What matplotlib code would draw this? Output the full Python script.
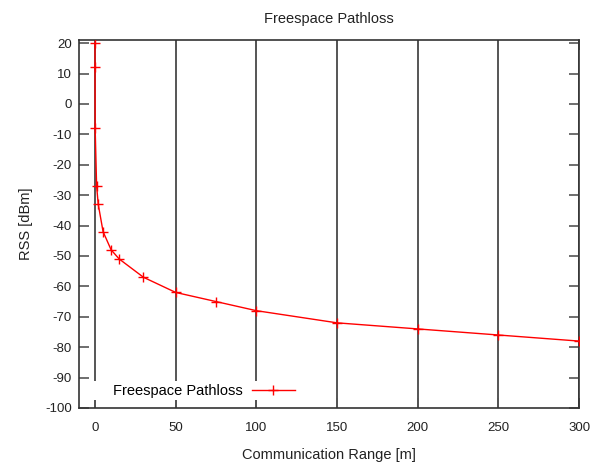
import matplotlib.pyplot as plt
from matplotlib.patches import Rectangle

plt.rcParams["font.family"] = ["Liberation Sans", "DejaVu Sans"]
plt.rcParams["axes.unicode_minus"] = False

# ── data: free-space received signal strength vs distance ─────────────────────
distance = [0.005, 0.01, 0.1, 1, 2, 5, 10, 15, 30, 50, 75, 100, 150, 200, 250, 300]
rss      = [20, 12, -8, -27, -33, -42, -48, -51, -57, -62, -65, -68, -72, -74, -76, -78]

x_ticks = [0, 50, 100, 150, 200, 250, 300]
y_ticks = list(range(-100, 21, 10))

# ── figure ────────────────────────────────────────────────────────────────────
fig = plt.figure(figsize=(6.02, 4.66), dpi=100)
ax = fig.add_axes([0.131, 0.1245, 0.831, 0.7895])

ax.plot(distance, rss, color="#ff0000", lw=1.0, marker="+", ms=7.5, mew=1.0,
        label="Freespace Pathloss", zorder=3)

ax.set_xlim(-10, 300)
ax.set_ylim(-100, 21)
ax.set_xticks(x_ticks)
ax.set_yticks(y_ticks)
ax.tick_params(direction="in", length=7, width=1.2, color="#555555",
               top=True, right=True, labelsize=9.5, labelcolor="#222222")
ax.tick_params(axis="x", pad=10)
ax.tick_params(axis="y", pad=5)
for s in ax.spines.values():
    s.set_color("#333333")
    s.set_linewidth(1.2)

ax.grid(axis="x", color="#555555", lw=1.4)
ax.set_axisbelow(True)

ax.set_title("Freespace Pathloss", fontsize=10.5, pad=12, color="#222222")
ax.set_xlabel("Communication Range [m]", fontsize=10.5, labelpad=10, color="#222222")
ax.set_ylabel("RSS [dBm]", fontsize=10.5, labelpad=9, color="#222222")

# white key box that blanks the grid behind the legend
ax.add_patch(Rectangle((0.012, 0.022), 0.44, 0.052, transform=ax.transAxes,
                       fc="white", ec="none", zorder=2))
ax.legend(loc="center left", bbox_to_anchor=(0.06, 0.046), borderaxespad=0,
          markerfirst=False, frameon=False, fontsize=10.5,
          handlelength=2.95, handletextpad=0.6, borderpad=0.3)

fig.savefig("out.png", dpi=100)
